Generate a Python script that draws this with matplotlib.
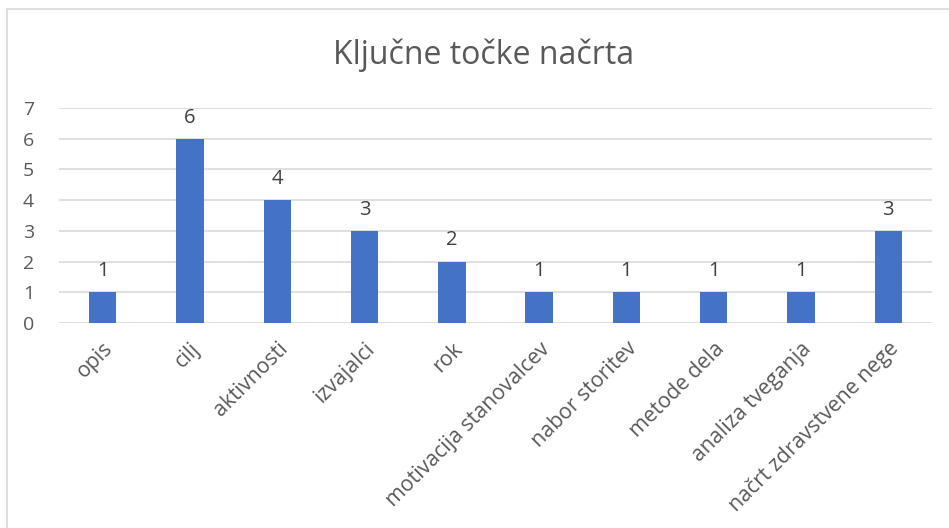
import matplotlib
matplotlib.use("Agg")
import matplotlib.pyplot as plt
from matplotlib.patches import Rectangle

categories = ["opis", "cilj", "aktivnosti", "izvajalci", "rok",
              "motivacija stanovalcev", "nabor storitev", "metode dela",
              "analiza tveganja", "načrt zdravstvene nege"]
values = [1, 6, 4, 3, 2, 1, 1, 1, 1, 3]
yticks = [0, 1, 2, 3, 4, 5, 6, 7]
title = "Ključne točke načrta"

plt.rcParams['font.family'] = ['Open Sans', 'DejaVu Sans']
W, H = 949, 528
fig = plt.figure(figsize=(W / 100, H / 100), dpi=100)
fig.patch.set_facecolor("white")

# chart border
fig.patches.append(Rectangle((7 / W, -0.1), 1.2, 1 - 9 / H + 0.1, transform=fig.transFigure,
                             fill=False, edgecolor="#d9d9d9", linewidth=1.2))

left, right = 59 / W, 932 / W
bottom, top = 1 - 323 / H, 1 - 108 / H
ax = fig.add_axes([left, bottom, right - left, top - bottom])
x = list(range(len(categories)))
bars = ax.bar(x, values, width=0.314, color="#4472C4", zorder=3)
ax.set_xlim(-0.5, len(categories) - 0.5)
ax.set_ylim(0, 7)
ax.set_yticks(yticks)
ax.yaxis.grid(True, color="#d9d9d9", linewidth=1.2, zorder=0)
for s in ax.spines.values():
    s.set_visible(False)
ax.tick_params(axis="both", length=0, labelcolor="#595959")
ax.tick_params(axis="y", pad=18, labelsize=14)
ax.set_xticks(x)
ax.set_xticklabels(categories, rotation=45, ha="right", rotation_mode="anchor")
ax.tick_params(axis="x", pad=11, labelsize=15.3)
for xi, v in zip(x, values):
    ax.annotate(str(v), (xi, v), xytext=(0, 8), textcoords="offset points",
                ha="center", va="bottom", fontsize=14.5, color="#404040")
fig.text(0.5 + 9 / W, 1 - 55 / H, title, ha="center", va="center", fontsize=23, color="#595959")
fig.savefig("out.png", dpi=100)
